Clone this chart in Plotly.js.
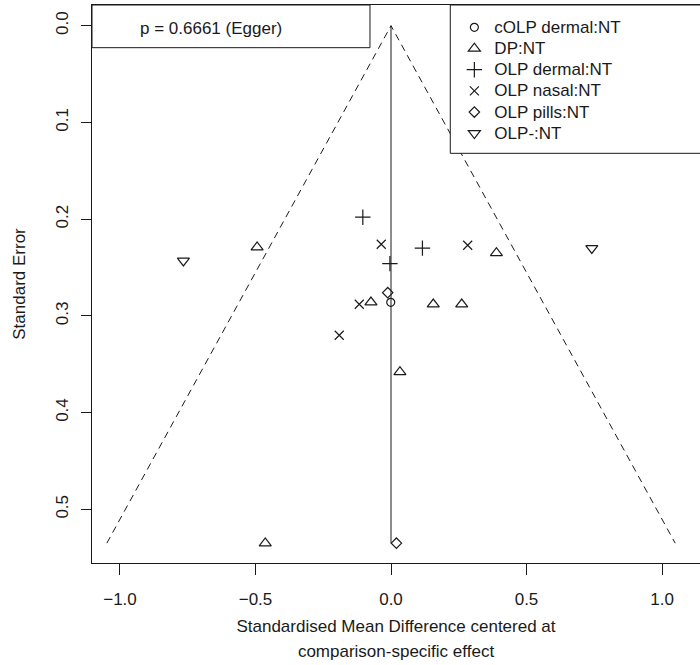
<!DOCTYPE html>
<html>
<head>
<meta charset="utf-8">
<script src="https://cdn.plot.ly/plotly-3.0.1.min.js"></script>
<style>html,body{margin:0;padding:0;background:#fff;}#chart{width:700px;height:665px;}</style>
</head>
<body>
<div id="chart"></div>
<script>
// Comparison names (legend labels)
var seriesNames = ["cOLP dermal:NT", "DP:NT", "OLP dermal:NT", "OLP nasal:NT", "OLP pills:NT", "OLP-:NT"];

// Effects centered at comparison-specific effect (x) and standard errors (y)
var colpDermalX  = [-0.001];
var colpDermalSE = [0.286];

var dpX  = [-0.494, 0.389, -0.074, 0.156, 0.261, 0.033, -0.464];
var dpSE = [0.229, 0.235, 0.286, 0.288, 0.288, 0.358, 0.535];

var olpDermalX  = [-0.104, 0.116, -0.004];
var olpDermalSE = [0.198, 0.230, 0.246];

var olpNasalX  = [-0.036, 0.283, -0.117, -0.191];
var olpNasalSE = [0.226, 0.227, 0.288, 0.320];

var olpPillsX  = [-0.012, 0.020];
var olpPillsSE = [0.276, 0.535];

var olpMinusX  = [-0.766, 0.741];
var olpMinusSE = [0.243, 0.230];

var eggerText = "p = 0.6661 (Egger)";
var xTitleLines = ["Standardised Mean Difference centered at", "comparison-specific effect"];
var yTitleText = "Standard Error";
var xTicks = [-1.0, -0.5, 0.0, 0.5, 1.0];
var yTicks = [0.0, 0.1, 0.2, 0.3, 0.4, 0.5];

var ink = "#1a1a1a";
var FONT = "Liberation Sans, Arial, sans-serif";
function big(s) { return '<span style="font-size:17px">' + s + '</span>'; }

var allSE = [].concat(colpDermalSE, dpSE, olpDermalSE, olpNasalSE, olpPillsSE, olpMinusSE);
var maxSE = Math.max.apply(null, allSE);
var zcrit = 1.96;

var traces = [];
// funnel (pseudo 95% CI) lines
traces.push({
  x: [-zcrit * maxSE, 0, zcrit * maxSE], y: [maxSE, 0, maxSE],
  mode: "lines", type: "scatter", showlegend: false, hoverinfo: "skip",
  line: {color: ink, width: 1, dash: "7px,5px"}
});
// vertical reference line at 0
traces.push({
  x: [0, 0], y: [0, maxSE],
  mode: "lines", type: "scatter", showlegend: false, hoverinfo: "skip",
  line: {color: ink, width: 1}
});

var groups = [
  [colpDermalX, colpDermalSE, "circle-open", 8],
  [dpX, dpSE, "triangle-up-open", 10.5],
  [olpDermalX, olpDermalSE, "cross-thin-open", 11],
  [olpNasalX, olpNasalSE, "x-thin-open", 9],
  [olpPillsX, olpPillsSE, "diamond-open", 8],
  [olpMinusX, olpMinusSE, "triangle-down-open", 10.5]
];
groups.forEach(function(g, i) {
  traces.push({
    x: g[0], y: g[1], name: big(seriesNames[i]),
    mode: "markers", type: "scatter",
    marker: {symbol: g[2], size: g[3], color: ink, line: {color: ink, width: 1.2}}
  });
});

var layout = {
  width: 700, height: 665,
  margin: {l: 92, r: 0, t: 5, b: 102, pad: 0},
  paper_bgcolor: "#fff", plot_bgcolor: "#fff",
  font: {family: FONT, size: 17, color: ink},
  showlegend: true,
  legend: {
    x: 0.596, xanchor: "left", y: 0.988, yanchor: "top",
    bgcolor: "rgba(0,0,0,0)", borderwidth: 0,
    font: {family: FONT, size: 14, color: ink},
    itemclick: false, itemdoubleclick: false
  },
  xaxis: {
    range: [-1.1033, 1.1402],
    tickvals: xTicks, tickformat: ".1f",
    showgrid: false, zeroline: false,
    showline: true, mirror: true, linecolor: ink, linewidth: 1,
    ticks: "outside", ticklen: 11, tickcolor: ink, tickwidth: 1,
    tickfont: {family: FONT, size: 17, color: ink},
    ticklabelstandoff: 10,
    title: {text: big(xTitleLines[0]) + "<br>" + big(xTitleLines[1]),
            font: {family: FONT, size: 19.2, color: ink}, standoff: 10}
  },
  yaxis: {
    range: [0.5555, -0.0214],
    tickvals: yTicks, tickformat: ".1f", tickangle: -90,
    showgrid: false, zeroline: false,
    showline: true, mirror: false, linecolor: ink, linewidth: 1,
    ticks: "outside", ticklen: 10, tickcolor: ink, tickwidth: 1,
    tickfont: {family: FONT, size: 17, color: ink},
    ticklabelstandoff: 6,
    title: {text: yTitleText, font: {family: FONT, size: 17, color: ink}, standoff: 23}
  },
  shapes: [
    {type: "rect", xref: "paper", yref: "paper", x0: 0, x1: 0.4572, y0: 0.9235, y1: 1,
     line: {color: ink, width: 1}, fillcolor: "#fff", layer: "above"},
    {type: "rect", xref: "paper", yref: "paper", x0: 0.5893, x1: 1.1, y0: 0.7342, y1: 1,
     line: {color: ink, width: 1}, fillcolor: "#fff", layer: "above"}
  ],
  annotations: [
    {text: eggerText, xref: "paper", yref: "paper", x: 0.0761, y: 0.957,
     xanchor: "left", yanchor: "middle", showarrow: false,
     font: {family: FONT, size: 17, color: ink}}
  ]
};

Plotly.newPlot("chart", traces, layout, {displayModeBar: false, staticPlot: true});
</script>
</body>
</html>
